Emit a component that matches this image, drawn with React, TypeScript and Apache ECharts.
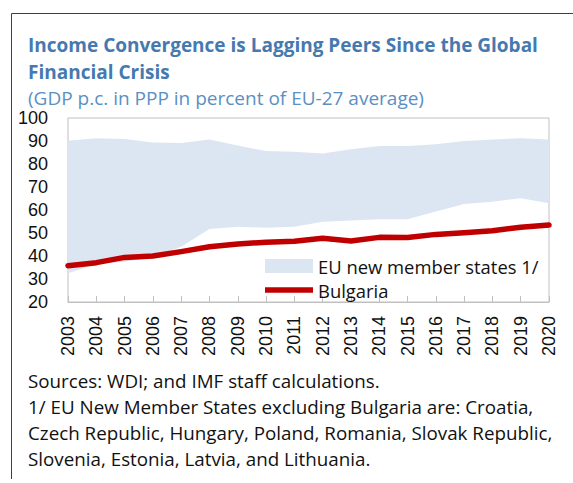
import React, { useEffect, useRef } from "react";
import * as echarts from "echarts";

const years = ["2003","2004","2005","2006","2007","2008","2009","2010","2011","2012","2013","2014","2015","2016","2017","2018","2019","2020"];
const nmsLower = [32.5, 36.5, 37.5, 39.5, 44, 51.7, 52.7, 52.3, 52.7, 54.9, 55.4, 56, 56, 59.3, 62.6, 63.6, 65.1, 62.9];
const nmsUpper = [90.1, 91.2, 90.9, 89.4, 89.1, 90.7, 88, 85.6, 85.3, 84.6, 86.4, 87.8, 87.8, 88.6, 90, 90.6, 91.2, 90.7];
const bulgaria = [35.8, 37.1, 39.4, 40, 41.9, 44, 45.2, 46, 46.4, 47.7, 46.5, 48.1, 48, 49.4, 50.1, 51, 52.5, 53.5];
const yTicks = { min: 20, max: 100, interval: 10 };

const titleText = "Income Convergence is Lagging Peers Since the Global\nFinancial Crisis";
const subtitleText = "(GDP p.c. in PPP in percent of EU-27 average)";
const footnoteText = "Sources: WDI; and IMF staff calculations.\n1/ EU New Member States excluding Bulgaria are: Croatia,\nCzech Republic, Hungary, Poland, Romania, Slovak Republic,\nSlovenia, Estonia, Latvia, and Lithuania.";
const bandName = "EU new member states 1/";
const lineName = "Bulgaria";

export default function App() {
  const ref = useRef<HTMLDivElement>(null);
  useEffect(() => {
    if (!ref.current) return;
    const chart = echarts.init(ref.current, null, { renderer: "svg" });
    const band = nmsUpper.map((u, i) => +(u - nmsLower[i]).toFixed(2));
    const sansUI = '"Open Sans", "Noto Sans", sans-serif';
    const arial = '"Liberation Sans", Arial, sans-serif';
    chart.setOption({
      animation: false,
      backgroundColor: "#ffffff",
      title: [
        {
          text: titleText,
          left: 23,
          top: 26,
          textStyle: { fontFamily: sansUI, fontWeight: "bold", fontSize: 19, color: "#4579b0", lineHeight: 27 },
        },
        {
          text: subtitleText,
          left: 23,
          top: 83,
          textStyle: { fontFamily: sansUI, fontWeight: "normal", fontSize: 19, color: "#5a8fc3" },
        },
        {
          text: footnoteText,
          left: 23,
          top: 363,
          textStyle: { fontFamily: sansUI, fontWeight: "normal", fontSize: 18.8, color: "#111111", lineHeight: 26 },
        },
      ],
      graphic: [
        { type: "line", shape: { x1: 11.5, y1: 13.5, x2: 573, y2: 13.5 }, style: { stroke: "#404040", lineWidth: 1 } },
        { type: "line", shape: { x1: 11.5, y1: 13.5, x2: 11.5, y2: 479 }, style: { stroke: "#404040", lineWidth: 1 } },
      ],
      legend: {
        orient: "vertical",
        left: 260,
        top: 252,
        itemWidth: 48,
        itemHeight: 14,
        itemGap: 6,
        textStyle: { fontFamily: sansUI, fontSize: 18.4, color: "#111111", padding: [0, 0, 0, 0] },
        data: [
          { name: bandName, icon: "rect" },
          { name: lineName, icon: "path://M0,0L48,0L48,5.5L0,5.5Z" },
        ],
        selectedMode: false,
      },
      grid: { left: 68, right: 24, top: 118, bottom: 181, show: true, borderColor: "#c0c0c0", borderWidth: 1, backgroundColor: "transparent" },
      xAxis: {
        type: "category",
        data: years,
        boundaryGap: false,
        axisLine: { show: true, lineStyle: { color: "#c0c0c0", width: 1 } },
        axisTick: { show: true, inside: true, length: 6, lineStyle: { color: "#c0c0c0" } },
        axisLabel: { rotate: 90, margin: 14, fontFamily: arial, fontSize: 18, color: "#111111", interval: 0 },
        splitLine: { show: false },
      },
      yAxis: {
        type: "value",
        min: yTicks.min,
        max: yTicks.max,
        interval: yTicks.interval,
        axisLine: { show: false },
        axisTick: { show: false },
        splitLine: { show: false },
        axisLabel: { margin: 20, fontFamily: arial, fontSize: 18, color: "#111111" },
      },
      series: [
        {
          name: "lower",
          type: "line",
          stack: "band",
          data: nmsLower,
          symbol: "none",
          lineStyle: { width: 0, opacity: 0 },
          silent: true,
          z: 1,
        },
        {
          name: bandName,
          type: "line",
          stack: "band",
          data: band,
          symbol: "none",
          color: "#dce6f2",
          itemStyle: { color: "#dce6f2" },
          lineStyle: { width: 0, opacity: 0 },
          areaStyle: { color: "#dce6f2", opacity: 1 },
          z: 1,
        },
        {
          name: lineName,
          type: "line",
          data: bulgaria,
          symbol: "none",
          color: "#c00000",
          itemStyle: { color: "#c00000" },
          lineStyle: { color: "#c00000", width: 5.5, cap: "round", join: "round" },
          z: 3,
        },
      ],
    });
    return () => chart.dispose();
  }, []);
  return <div ref={ref} style={{ position: "fixed", left: 0, top: 0, width: 573, height: 483 }} />;
}
